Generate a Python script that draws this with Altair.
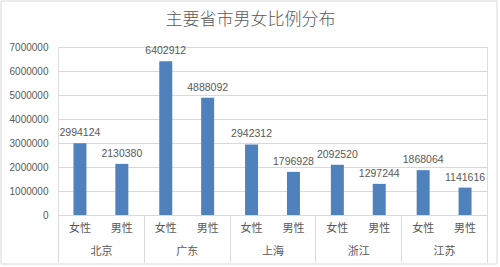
import altair as alt
import pandas as pd

provinces = ["北京", "广东", "上海", "浙江", "江苏"]
genders = ["女性", "男性"]
female = [2994124, 6402912, 2942312, 2092520, 1868064]
male = [2130380, 4888092, 1796928, 1297244, 1141616]
y_ticks = [0, 1000000, 2000000, 3000000, 4000000, 5000000, 6000000, 7000000]

rows = []
for i, p in enumerate(provinces):
    rows.append({"省市": p, "性别": "女性", "人数": female[i]})
    rows.append({"省市": p, "性别": "男性", "人数": male[i]})
df = pd.DataFrame(rows)

W, H = 429, 168
GRAY = "#595959"
LINE = "#d9d9d9"
CJK = "Noto Sans CJK SC"
NUM = "Liberation Sans"

x = alt.X(
    "省市:N", sort=provinces,
    scale=alt.Scale(paddingInner=0, paddingOuter=0),
    axis=alt.Axis(title=None, tickBand="extent", tickSize=47, tickColor=LINE,
                  domainColor=LINE, labelPadding=-17, labelAngle=0,
                  labelFont=CJK, labelFontSize=11, labelColor=GRAY),
)
xo = alt.XOffset("性别:N", sort=genders,
                 scale=alt.Scale(paddingInner=0.69, paddingOuter=0.369))
y = alt.Y(
    "人数:Q",
    scale=alt.Scale(domain=[0, 7000000], nice=False),
    axis=alt.Axis(title=None, values=y_ticks, format="d", domain=False,
                  ticks=False, gridColor=LINE, labelColor=GRAY,
                  labelFont=NUM, labelFontSize=10, labelPadding=10),
)

base = alt.Chart(df)
frame = alt.Chart(pd.DataFrame({"a": [0]})).mark_rect(
    filled=False, stroke=LINE, strokeWidth=1).encode(
    x=alt.value(-57), x2=alt.value(W + 10),
    y=alt.value(-46), y2=alt.value(H + 49))
bars = base.mark_bar(color="#4F81BD").encode(x=x, xOffset=xo, y=y)
vals = base.mark_text(baseline="middle", dy=-10, font=NUM, fontSize=10.5,
                      color=GRAY).encode(x=x, xOffset=xo, y=y,
                                         text=alt.Text("人数:Q", format="d"))
glabels = base.mark_text(baseline="middle", font=CJK, fontSize=11,
                         color=GRAY).encode(x=x, xOffset=xo,
                                            y=alt.value(H + 14),
                                            text="性别:N")

chart = alt.layer(frame, bars, vals, glabels).properties(
    width=W, height=H,
    title=alt.Title("主要省市男女比例分布", fontSize=17, color=GRAY, font=CJK,
                    fontWeight=300, anchor="middle", dx=-22, offset=-28),
    autosize=alt.AutoSizeParams(type="none"),
    padding={"left": 58, "top": 47, "right": 13, "bottom": 52},
).configure_view(stroke=None).configure(background="white")

chart.save("out.html", embed_options={"renderer": "svg", "actions": False})
